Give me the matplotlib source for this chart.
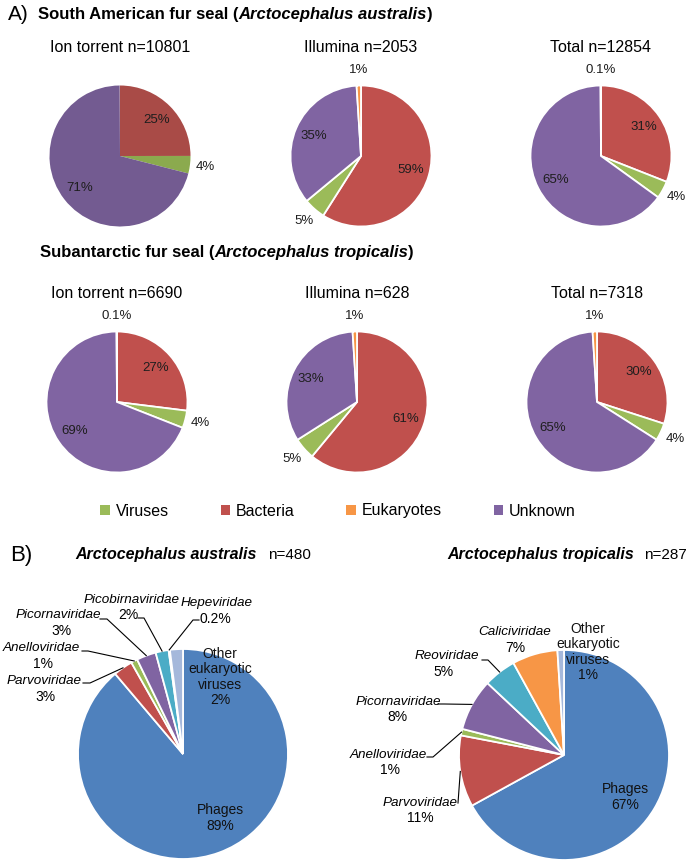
import numpy as np
import matplotlib
matplotlib.use("Agg")
import matplotlib.pyplot as plt
from matplotlib.patches import Patch

plt.rcParams['font.family'] = ['Liberation Sans', 'DejaVu Sans']

W, H = 696, 860

# ---------------- Data: panel A (slices clockwise from 12 o'clock) ----------------
a_slice_order = ["Bacteria", "Viruses", "Unknown", "Eukaryotes"]
legend_order = ["Viruses", "Bacteria", "Eukaryotes", "Unknown"]

aus_titles = ["Ion torrent n=10801", "Illumina n=2053", "Total n=12854"]
aus_ion = [25, 4, 71, 0.05]
aus_ill = [59, 5, 35, 1]
aus_tot = [31, 4, 65, 0.1]
aus_ion_labels = ["25%", "4%", "71%", ""]
aus_ill_labels = ["59%", "5%", "35%", "1%"]
aus_tot_labels = ["31%", "4%", "65%", "0.1%"]

tro_titles = ["Ion torrent n=6690", "Illumina n=628", "Total n=7318"]
tro_ion = [27, 4, 69, 0.1]
tro_ill = [61, 5, 33, 1]
tro_tot = [30, 4, 65, 1]
tro_ion_labels = ["27%", "4%", "69%", "0.1%"]
tro_ill_labels = ["61%", "5%", "33%", "1%"]
tro_tot_labels = ["30%", "4%", "65%", "1%"]

# ---------------- Data: panel B (clockwise from 12 o'clock) ----------------
b_aus_families = ["Phages", "Parvoviridae", "Anelloviridae", "Picornaviridae",
                  "Picobirnaviridae", "Hepeviridae", "Other eukaryotic viruses"]
b_aus_values = [89, 3, 1, 3, 2, 0.2, 2]
b_aus_labels = ["89%", "3%", "1%", "3%", "2%", "0.2%", "2%"]

b_tro_families = ["Phages", "Parvoviridae", "Anelloviridae", "Picornaviridae",
                  "Reoviridae", "Caliciviridae", "Other eukaryotic viruses"]
b_tro_values = [67, 11, 1, 8, 5, 7, 1]
b_tro_labels = ["67%", "11%", "1%", "8%", "5%", "7%", "1%"]

# ---------------- Styles ----------------
a_colors = {"Viruses": "#9BBB59", "Bacteria": "#C0504D", "Eukaryotes": "#F79646", "Unknown": "#8064A2"}
a_colors_dark = {"Viruses": "#8BAA4E", "Bacteria": "#A94B47", "Eukaryotes": "#E9C0B0", "Unknown": "#735B91"}
b_colors = {"Phages": "#4F81BD", "Parvoviridae": "#C0504D", "Anelloviridae": "#9BBB59",
            "Picornaviridae": "#8064A2", "Picobirnaviridae": "#4BACC6", "Reoviridae": "#4BACC6",
            "Hepeviridae": "#F79646", "Caliciviridae": "#F79646",
            "Other eukaryotic viruses": "#A5B8DB"}

fig = plt.figure(figsize=(W / 100, H / 100), dpi=100)
ax = fig.add_axes([0, 0, 1, 1])
ax.set_xlim(0, W)
ax.set_ylim(0, H)
ax.set_aspect('equal')
ax.set_autoscale_on(False)
ax.axis('off')
renderer = fig.canvas.get_renderer()


def Y(y):
    return H - y


def rich(x, y, parts, size):
    for txt, weight, style in parts:
        t = ax.text(x, Y(y), txt, fontsize=size, fontweight=weight, fontstyle=style,
                    ha='left', va='center')
        x += t.get_window_extent(renderer).width
    return x


# ---------------- Panel A ----------------
A_R = 70.5
ax.text(8, Y(14), "A)", fontsize=15, ha='left', va='center')
rich(38, 15, [("South American fur seal (", 'bold', 'normal'),
              ("Arctocephalus australis", 'bold', 'italic'),
              (")", 'bold', 'normal')], 12)
rich(40, 253, [("Subantarctic fur seal (", 'bold', 'normal'),
               ("Arctocephalus tropicalis", 'bold', 'italic'),
               (")", 'bold', 'normal')], 12)


def pie_a(cx, cy, vals, labels, cmap, edge):
    cols = [cmap[c] for c in a_slice_order]
    wedges, _ = ax.pie(vals, colors=cols, startangle=90, counterclock=False,
                       radius=A_R, center=(cx, Y(cy)), frame=True,
                       wedgeprops=dict(edgecolor='white', linewidth=edge))
    tot = float(sum(vals))
    for w, v, lab in zip(wedges, vals, labels):
        if not lab:
            continue
        ang = np.deg2rad((w.theta1 + w.theta2) / 2)
        k = 0.73 if v / tot >= 0.1 else 1.22
        ax.text(cx + k * A_R * np.cos(ang), Y(cy) + k * A_R * np.sin(ang), lab,
                ha='center', va='center', fontsize=9.5, color='#1e1e1e')


row1 = [(120, 156), (361, 156), (601, 156)]
row2 = [(117, 402), (357, 402), (597, 402)]
for (cx, cy), title in zip(row1, aus_titles):
    ax.text(cx, Y(48), title, fontsize=11.5, ha='center', va='center')
for (cx, cy), title in zip(row2, tro_titles):
    ax.text(cx, Y(293), title, fontsize=11.5, ha='center', va='center')

pie_a(*row1[0], aus_ion, aus_ion_labels, a_colors_dark, 0)
pie_a(*row1[1], aus_ill, aus_ill_labels, a_colors, 1.3)
pie_a(*row1[2], aus_tot, aus_tot_labels, a_colors, 1.3)
pie_a(*row2[0], tro_ion, tro_ion_labels, a_colors, 1.3)
pie_a(*row2[1], tro_ill, tro_ill_labels, a_colors, 1.3)
pie_a(*row2[2], tro_tot, tro_tot_labels, a_colors, 1.3)

handles = [Patch(facecolor=a_colors[c], edgecolor='none', label=c) for c in legend_order]
fig.legend(handles=handles, loc='center', bbox_to_anchor=(338 / W, 1 - 511 / H), ncol=4,
           frameon=False, fontsize=11.5, handlelength=0.6, handleheight=0.6,
           handletextpad=0.35, columnspacing=3.25, borderpad=0, borderaxespad=0)

# ---------------- Panel B ----------------
B_R = 105
ax.text(10, Y(556), "B)", fontsize=16, ha='left', va='center')
x = rich(75, 555, [("Arctocephalus australis", 'bold', 'italic')], 11.5)
ax.text(x + 12, Y(555), "n=480", fontsize=11, ha='left', va='center')
x = rich(447, 555, [("Arctocephalus tropicalis", 'bold', 'italic')], 11.5)
ax.text(x + 10, Y(555), "n=287", fontsize=11, ha='left', va='center')

b_aus_layout = {
    "Phages": dict(xy=(220, 818)),
    "Other eukaryotic viruses": dict(xy=(220, 677)),
    "Parvoviridae": dict(xy=(44, 681), pct=(45, 697), line=[(83, 683), (90, 683)]),
    "Anelloviridae": dict(xy=(41, 648), pct=(43, 664), line=[(82, 651), (88, 651)]),
    "Picornaviridae": dict(xy=(58, 615), pct=(61, 631), line=[(100, 619), (107, 619)]),
    "Picobirnaviridae": dict(xy=(132, 600), pct=(128, 615), line=[(138, 618), (144, 618)]),
    "Hepeviridae": dict(xy=(217, 603), pct=(215, 619), line=[(199, 620), (193, 620)]),
}
b_tro_layout = {
    "Phages": dict(xy=(625, 797)),
    "Other eukaryotic viruses": dict(xy=(588, 652)),
    "Parvoviridae": dict(xy=(420, 803), pct=(420, 818), line=[(458, 803)]),
    "Anelloviridae": dict(xy=(388, 755), pct=(390, 770), line=[(427, 757), (433, 757)]),
    "Picornaviridae": dict(xy=(398, 702), pct=(397, 717), line=[(438, 704), (444, 704)]),
    "Reoviridae": dict(xy=(447, 656), pct=(444, 672), line=[(482, 660), (488, 660)]),
    "Caliciviridae": dict(xy=(515, 632), pct=(515, 648)),
}


def pie_b(cx, cy, fams, vals, labels, layout):
    cols = [b_colors[f] for f in fams]
    wedges, _ = ax.pie(vals, colors=cols, startangle=90, counterclock=False,
                       radius=B_R, center=(cx, Y(cy)), frame=True,
                       wedgeprops=dict(edgecolor='white', linewidth=1.3))
    for w, f, lab in zip(wedges, fams, labels):
        lay = layout[f]
        if f in ("Phages", "Other eukaryotic viruses"):
            txt = f.replace(" ", "\n") + "\n" + lab
            ax.text(lay['xy'][0], Y(lay['xy'][1]), txt, ha='center', va='center',
                    fontsize=10, linespacing=1.12, color='#111111')
            continue
        ax.text(lay['xy'][0], Y(lay['xy'][1]), f, ha='center', va='center',
                fontsize=9.7, fontstyle='italic')
        ax.text(lay['pct'][0], Y(lay['pct'][1]), lab, ha='center', va='center', fontsize=10)
        if 'line' in lay:
            ang = np.deg2rad((w.theta1 + w.theta2) / 2)
            ex, ey = cx + B_R * np.cos(ang), Y(cy) + B_R * np.sin(ang)
            xs = [p[0] for p in lay['line']] + [ex]
            ys = [Y(p[1]) for p in lay['line']] + [ey]
            ax.plot(xs, ys, color='black', lw=0.8)


pie_b(183, 754, b_aus_families, b_aus_values, b_aus_labels, b_aus_layout)
pie_b(564, 755, b_tro_families, b_tro_values, b_tro_labels, b_tro_layout)

ax.set_xlim(0, W)
ax.set_ylim(0, H)
fig.savefig("out.png", dpi=100)
